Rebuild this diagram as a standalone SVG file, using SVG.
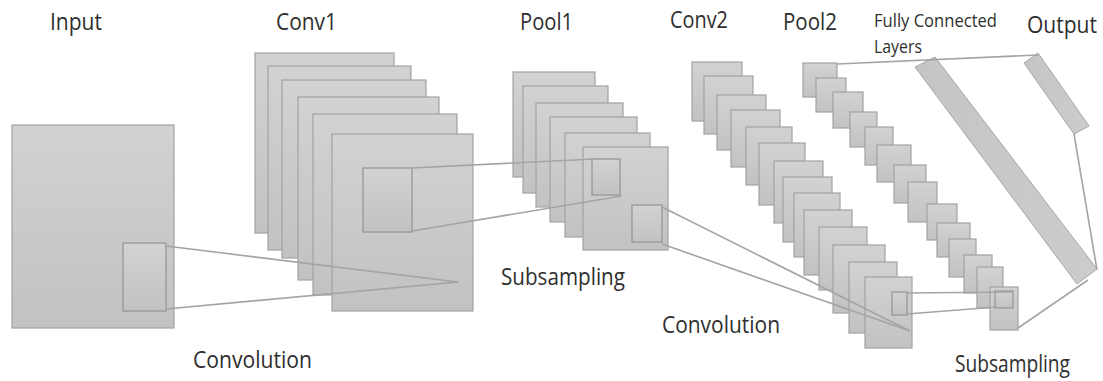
<svg xmlns="http://www.w3.org/2000/svg" width="1103" height="381" viewBox="0 0 1103 381">
<style>
  .fm { fill: url(#g); stroke: #a2a2a2; stroke-width: 1.2; }
  .k { fill: url(#g); stroke: #979797; stroke-width: 1.3; }
  .bar { fill: url(#gb); stroke: #a6a6a6; stroke-width: 1; }
  .ln { stroke: #a4a4a4; stroke-width: 1.6; fill: none; }
  .lb { font-family: "Open Sans", "Liberation Sans", sans-serif; fill: #2f2f2f; font-size: 23px; }
  .sm { font-size: 19px; }
</style>
<defs>
  <linearGradient id="g" x1="0" y1="0" x2="0" y2="1">
    <stop offset="0" stop-color="#d2d2d2"/>
    <stop offset="1" stop-color="#c2c2c2"/>
  </linearGradient>
  <linearGradient id="gb" x1="0" y1="0" x2="1" y2="0">
    <stop offset="0" stop-color="#c5c5c5"/>
    <stop offset="1" stop-color="#cccccc"/>
  </linearGradient>
</defs>
<rect width="1103" height="381" fill="#ffffff"/>

<g id="input">
  <rect class="fm" x="12" y="125" width="162" height="203"/>
  <rect class="k" x="123" y="243" width="43" height="68"/>
</g>

<g id="conv1">
  <rect class="fm" x="255" y="53" width="139" height="180"/>
  <rect class="fm" x="268" y="66" width="143" height="184"/>
  <rect class="fm" x="282" y="80" width="144" height="178"/>
  <rect class="fm" x="298" y="97" width="141" height="183"/>
  <rect class="fm" x="313" y="114" width="144" height="181"/>
  <rect class="fm" x="332" y="134" width="141" height="177"/>
  <rect class="k" x="363" y="168" width="49" height="64"/>
</g>

<g id="pool1">
  <rect class="fm" x="513" y="72" width="82" height="105"/>
  <rect class="fm" x="523" y="86" width="85" height="107"/>
  <rect class="fm" x="536" y="103" width="87" height="104"/>
  <rect class="fm" x="550" y="117" width="87" height="105"/>
  <rect class="fm" x="565" y="133" width="85" height="104"/>
  <rect class="fm" x="583" y="147" width="85" height="103"/>
  <rect class="k" x="592" y="159" width="28" height="36"/>
  <rect class="k" x="632" y="205" width="30" height="37"/>
</g>

<g id="conv2">
  <rect class="fm" x="692" y="62" width="50" height="59"/>
  <rect class="fm" x="704" y="76" width="49" height="58"/>
  <rect class="fm" x="717" y="95" width="49" height="55"/>
  <rect class="fm" x="731" y="110" width="49" height="57"/>
  <rect class="fm" x="746" y="127" width="46" height="58"/>
  <rect class="fm" x="759" y="143" width="46" height="62"/>
  <rect class="fm" x="774" y="161" width="49" height="62"/>
  <rect class="fm" x="783" y="177" width="49" height="65"/>
  <rect class="fm" x="794" y="193" width="46" height="64"/>
  <rect class="fm" x="804" y="210" width="48" height="65"/>
  <rect class="fm" x="819" y="227" width="48" height="63"/>
  <rect class="fm" x="833" y="245" width="52" height="68"/>
  <rect class="fm" x="849" y="262" width="48" height="71"/>
  <rect class="fm" x="865" y="277" width="47" height="71"/>
  <rect class="k" x="892" y="292" width="15" height="23"/>
</g>

<g id="pool2">
  <rect class="fm" x="803" y="63" width="34" height="34"/>
  <rect class="fm" x="816" y="78" width="30" height="34"/>
  <rect class="fm" x="833" y="92" width="30" height="36"/>
  <rect class="fm" x="850" y="112" width="27" height="35"/>
  <rect class="fm" x="865" y="127" width="28" height="38"/>
  <rect class="fm" x="877" y="145" width="34" height="37"/>
  <rect class="fm" x="894" y="165" width="32" height="38"/>
  <rect class="fm" x="908" y="182" width="29" height="40"/>
  <rect class="fm" x="927" y="204" width="30" height="36"/>
  <rect class="fm" x="937" y="223" width="33" height="34"/>
  <rect class="fm" x="949" y="239" width="27" height="38"/>
  <rect class="fm" x="964" y="255" width="28" height="38"/>
  <rect class="fm" x="977" y="267" width="26" height="41"/>
  <rect class="fm" x="990" y="287" width="28" height="43"/>
  <rect class="k" x="995" y="291" width="18" height="17"/>
</g>

<g id="fc">
  <polygon class="bar" points="915,67 935,57 1097,269 1077,284"/>
</g>

<g id="output">
  <polygon class="bar" points="1024,63 1038,53 1089,126 1074,134"/>
</g>

<g id="connectors">
  <line class="ln" x1="166" y1="246" x2="458" y2="282"/>
  <line class="ln" x1="166" y1="309" x2="458" y2="282"/>
  <line class="ln" x1="412" y1="168" x2="594" y2="159"/>
  <line class="ln" x1="412" y1="231" x2="622" y2="196"/>
  <line class="ln" x1="662" y1="207" x2="910" y2="331"/>
  <line class="ln" x1="662" y1="244" x2="910" y2="331"/>
  <line class="ln" x1="907" y1="293" x2="1013" y2="292"/>
  <line class="ln" x1="907" y1="314" x2="996" y2="307"/>
  <line class="ln" x1="837" y1="64" x2="1038" y2="55"/>
  <line class="ln" x1="1074" y1="134" x2="1097" y2="270"/>
  <line class="ln" x1="1018" y1="328" x2="1088" y2="280"/>
</g>

<g id="labels">
  <text class="lb" x="50" y="30" textLength="52" lengthAdjust="spacingAndGlyphs">Input</text>
  <text class="lb" x="276" y="30" textLength="61" lengthAdjust="spacingAndGlyphs">Conv1</text>
  <text class="lb" x="520" y="30" textLength="53" lengthAdjust="spacingAndGlyphs">Pool1</text>
  <text class="lb" x="670" y="28" textLength="58" lengthAdjust="spacingAndGlyphs">Conv2</text>
  <text class="lb" x="783" y="30" textLength="54" lengthAdjust="spacingAndGlyphs">Pool2</text>
  <text class="lb sm" x="874" y="27" textLength="123" lengthAdjust="spacingAndGlyphs">Fully Connected</text>
  <text class="lb sm" x="874" y="53" textLength="48" lengthAdjust="spacingAndGlyphs">Layers</text>
  <text class="lb" x="1027" y="33" textLength="70" lengthAdjust="spacingAndGlyphs">Output</text>
  <text class="lb" x="193" y="368" textLength="119" lengthAdjust="spacingAndGlyphs">Convolution</text>
  <text class="lb" x="501" y="285" textLength="124" lengthAdjust="spacingAndGlyphs">Subsampling</text>
  <text class="lb" x="662" y="333" textLength="118" lengthAdjust="spacingAndGlyphs">Convolution</text>
  <text class="lb" x="955" y="372" textLength="115" lengthAdjust="spacingAndGlyphs">Subsampling</text>
</g>
</svg>
